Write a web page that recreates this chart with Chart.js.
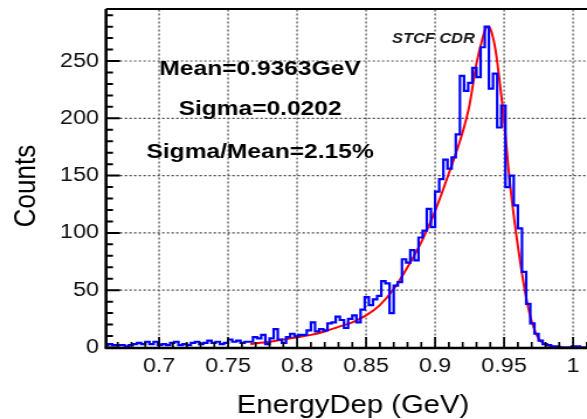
<!DOCTYPE html>
<html>
<head>
<meta charset="utf-8">
<script src="https://cdn.jsdelivr.net/npm/chart.js@4.4.1/dist/chart.umd.min.js"></script>
<style>
body { margin: 0; background: #fff; overflow: hidden; }
</style>
</head>
<body>
<!-- drawn at 502 wide and stretched to the full page width -->
<canvas id="canvas" width="502" height="419" style="width:587px;height:419px"></canvas>
<script>
// energy deposit histogram, 0.003 GeV bins starting at 0.66 GeV
var binStart = 0.66;
var binWidth = 0.003;
var counts = [
    2, 3, 2, 2, 2, 1, 2, 3, 4, 3,
    5, 3, 5, 2, 3, 2, 4, 5, 2, 3,
    2, 4, 5, 3, 4, 6, 4, 5, 3, 4,
    7, 5, 6, 4, 5, 5,
    9, 8, 11, 3, 8, 16, 7, 4, 9, 12,
    10, 11, 11, 15, 22, 14, 16, 15, 21, 22,
    27, 24, 17, 25, 28, 22, 33, 44, 37, 42,
    45, 58, 56, 30, 54, 57,
    77, 74, 85, 76, 96, 102, 121, 105, 136, 147,
    164, 156, 166, 186, 237, 224, 231, 244, 236, 262,
    280, 226, 239, 192, 211, 140, 150, 124, 104, 66,
    38, 21, 12, 6, 3, 2, 1, 1, 0, 0,
    0, 1, 1, 0, 0
];

// fitted curve
var fitX = [0.766, 0.78, 0.79, 0.80, 0.81, 0.82, 0.83, 0.84, 0.85, 0.86,
            0.87, 0.88, 0.89, 0.90, 0.91, 0.92, 0.925, 0.93, 0.934, 0.937,
            0.939, 0.941, 0.944, 0.947, 0.950, 0.953, 0.956, 0.959, 0.962, 0.965,
            0.968, 0.971, 0.974, 0.977, 0.980, 0.984, 0.99, 1.0, 1.0101];
var fitY = [3, 5, 7, 9, 11, 14, 18, 22, 28, 37,
            51, 70, 92, 119, 152, 188, 212, 248, 268, 279,
            280, 275, 258, 230, 198, 158, 125, 97, 72, 50,
            32, 19, 10, 5, 2.5, 1, 0.3, 0, 0];

var xMin = 0.6615, xMax = 1.0101;
var yMin = 0, yMax = 295.4;
var xTicks = [0.7, 0.75, 0.8, 0.85, 0.9, 0.95, 1.0];
var xTickLabels = ['0.7', '0.75', '0.8', '0.85', '0.9', '0.95', '1'];
var xMinor = [0.67, 0.68, 0.69, 0.71, 0.72, 0.73, 0.74, 0.76, 0.77, 0.78, 0.79,
              0.81, 0.82, 0.83, 0.84, 0.86, 0.87, 0.88, 0.89, 0.91, 0.92, 0.93, 0.94,
              0.96, 0.97, 0.98, 0.99, 1.01];
var yTicks = [0, 50, 100, 150, 200, 250];
var yTickLabels = ['0', '50', '100', '150', '200', '250'];
var yMinor = [10, 20, 30, 40, 60, 70, 80, 90, 110, 120, 130, 140, 160, 170, 180, 190,
              210, 220, 230, 240, 260, 270, 280, 290];

var statLines = ['Mean=0.9363GeV', 'Sigma=0.0202', 'Sigma/Mean=2.15%'];
var tagText = 'STCF CDR';
var xTitle = 'EnergyDep (GeV)';
var yTitle = 'Counts';

var FONT = '"Liberation Sans", Arial, sans-serif';

// left edge of every bin, plus the closing right edge
var histPoints = counts.map(function(c, i) {
    return { x: binStart + i * binWidth, y: c };
});
histPoints.push({ x: binStart + counts.length * binWidth, y: counts[counts.length - 1] });

var fitPoints = fitX.map(function(x, i) {
    return { x: x, y: fitY[i] };
});

// dotted grid, frame, inward ticks and text
var framePlugin = {
    id: 'frame',
    beforeDatasetsDraw: function(chart) {
        var ctx = chart.ctx;
        var a = chart.chartArea;
        var xs = chart.scales.x, ys = chart.scales.y;
        ctx.save();
        ctx.strokeStyle = '#4a4a4a';
        ctx.lineWidth = 1.2;
        ctx.setLineDash([2, 2]);
        ctx.beginPath();
        xTicks.forEach(function(v) {
            var p = xs.getPixelForValue(v);
            ctx.moveTo(p, a.bottom); ctx.lineTo(p, a.top);
        });
        yTicks.forEach(function(v) {
            if (v === yMin) return;
            var p = ys.getPixelForValue(v);
            ctx.moveTo(a.left, p); ctx.lineTo(a.right, p);
        });
        ctx.stroke();
        ctx.restore();
    },
    afterDatasetsDraw: function(chart) {
        var ctx = chart.ctx;
        var a = chart.chartArea;
        var xs = chart.scales.x, ys = chart.scales.y;
        ctx.save();
        ctx.strokeStyle = '#000';

        // y ticks
        ctx.lineWidth = 2;
        ctx.beginPath();
        yTicks.forEach(function(v) {
            var p = ys.getPixelForValue(v);
            ctx.moveTo(a.left, p); ctx.lineTo(a.left + 12, p);
        });
        yMinor.forEach(function(v) {
            var p = ys.getPixelForValue(v);
            ctx.moveTo(a.left, p); ctx.lineTo(a.left + 6, p);
        });
        ctx.stroke();

        // x ticks
        ctx.lineWidth = 1.7;
        ctx.beginPath();
        xTicks.forEach(function(v) {
            var p = xs.getPixelForValue(v);
            ctx.moveTo(p, a.bottom); ctx.lineTo(p, a.bottom - 10.5);
        });
        xMinor.forEach(function(v) {
            var p = xs.getPixelForValue(v);
            ctx.moveTo(p, a.bottom); ctx.lineTo(p, a.bottom - 5.5);
        });
        ctx.stroke();

        // axes
        ctx.lineWidth = 2.6;
        ctx.beginPath();
        ctx.moveTo(a.left, a.top);
        ctx.lineTo(a.left, a.bottom + 1);
        ctx.stroke();
        ctx.lineWidth = 2.6;
        ctx.beginPath();
        ctx.moveTo(a.left - 1, a.bottom + 0.5);
        ctx.lineTo(a.right, a.bottom + 0.5);
        ctx.stroke();
        ctx.lineWidth = 2;
        ctx.beginPath();
        ctx.moveTo(a.left, a.top);
        ctx.lineTo(a.right, a.top);
        ctx.stroke();
        ctx.restore();
    },
    afterDraw: function(chart) {
        var ctx = chart.ctx;
        ctx.save();
        ctx.fillStyle = '#000';
        ctx.textAlign = 'center';
        ctx.textBaseline = 'alphabetic';

        ctx.font = 'bold 21px ' + FONT;
        ctx.fillText(statLines[0], 222.4, 75);
        ctx.fillText(statLines[1], 222.4, 115);
        ctx.fillText(statLines[2], 222.4, 158);

        ctx.fillStyle = '#1a1a1a';
        ctx.font = 'italic bold 14px ' + FONT;
        ctx.fillText(tagText, 370.7, 43.3);

        ctx.fillStyle = '#000';
        ctx.font = '25px ' + FONT;
        ctx.fillText(xTitle, 301.9, 413);

        ctx.font = '26px ' + FONT;
        ctx.translate(22.5, 186);
        ctx.rotate(-Math.PI / 2);
        ctx.textBaseline = 'middle';
        ctx.fillText(yTitle, 0, 0);
        ctx.restore();
    }
};

var ctx = document.getElementById('canvas').getContext('2d');
var myChart = new Chart(ctx, {
    type: 'line',
    data: {
        datasets: [
            {
                label: 'hist',
                data: histPoints,
                stepped: 'before',
                borderColor: '#0000ff',
                borderWidth: 2.2,
                pointRadius: 0,
                fill: false
            },
            {
                label: 'fit',
                data: fitPoints,
                borderColor: '#ff0000',
                borderWidth: 2,
                pointRadius: 0,
                cubicInterpolationMode: 'monotone',
                fill: false
            }
        ]
    },
    options: {
        responsive: false,
        devicePixelRatio: 1,
        animation: false,
        layout: { padding: { top: 9, left: 0, right: 0, bottom: 0 } },
        plugins: {
            legend: { display: false },
            tooltip: { enabled: false }
        },
        scales: {
            x: {
                type: 'linear',
                min: xMin,
                max: xMax,
                afterBuildTicks: function(s) {
                    s.ticks = xTicks.map(function(v) { return { value: v }; });
                },
                afterFit: function(s) {
                    s.height = 71.5;
                    s.paddingLeft = 0;
                    s.paddingRight = 0;
                },
                grid: { display: false, drawTicks: false },
                border: { display: false },
                ticks: {
                    padding: 7,
                    color: '#111',
                    maxRotation: 0,
                    autoSkip: false,
                    font: { family: FONT, size: 20 },
                    callback: function(v, i) { return xTickLabels[i]; }
                }
            },
            y: {
                type: 'linear',
                min: yMin,
                max: yMax,
                afterBuildTicks: function(s) {
                    s.ticks = yTicks.map(function(v) { return { value: v }; });
                },
                afterFit: function(s) {
                    s.width = 90.65;
                    s.paddingTop = 0;
                    s.paddingBottom = 0;
                },
                grid: { display: false, drawTicks: false },
                border: { display: false },
                ticks: {
                    padding: 6,
                    color: '#111',
                    autoSkip: false,
                    font: { family: FONT, size: 20 },
                    callback: function(v, i) { return yTickLabels[i]; }
                }
            }
        }
    },
    plugins: [framePlugin]
});
</script>
</body>
</html>
